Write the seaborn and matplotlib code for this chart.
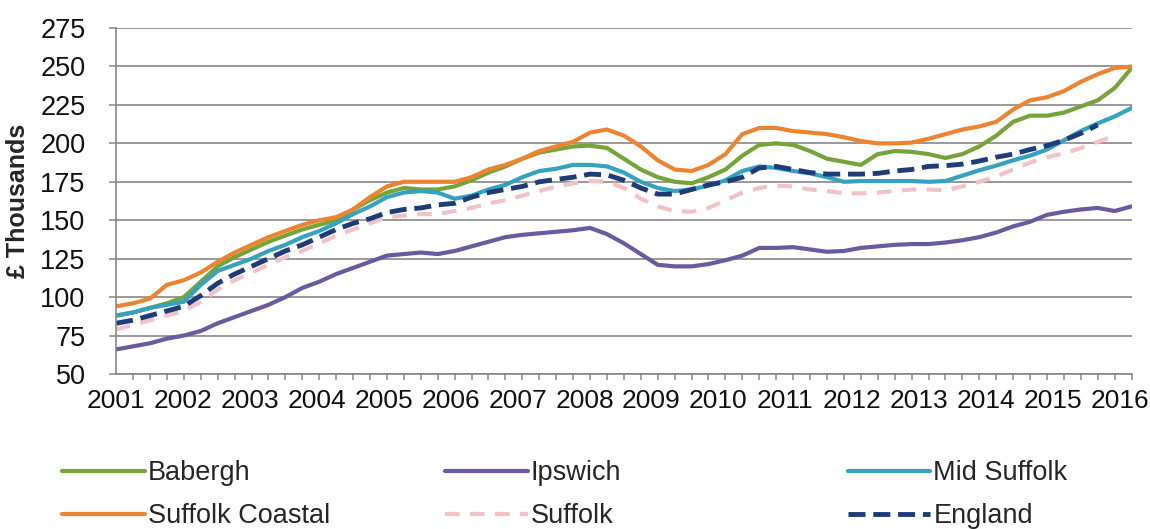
import numpy as np
import pandas as pd
import matplotlib
matplotlib.use("Agg")
import matplotlib.pyplot as plt
import seaborn as sns

# quarterly average house prices, 2001 Q1 to 2016 Q1 (GBP thousands)
years = [str(y) for y in range(2001, 2017)]
quarters = list(range(61))

babergh = [88, 90, 93, 96, 100, 110, 120, 126, 131, 136, 140, 144, 147, 150, 157, 163,
           168, 171, 170, 170, 172, 176, 181, 185, 190, 194, 196, 198, 198.5, 197, 190, 183,
           178, 175, 174, 178, 183, 192, 199, 200, 199, 195, 190, 188, 186, 193, 195, 194.5,
           193, 190.5, 193, 198, 205, 214, 218, 218, 220, 224, 228, 236, 249]
ipswich = [66, 68, 70, 73, 75, 78, 83, 87, 91, 95, 100, 106, 110, 115, 119, 123,
           127, 128, 129, 128, 130, 133, 136, 139, 140.5, 141.5, 142.5, 143.5, 145, 141, 135, 128,
           121, 120, 120, 121.5, 124, 127, 132, 132, 132.5, 131, 129.5, 130, 132, 133, 134, 134.5,
           134.5, 135.5, 137, 139, 142, 146, 149, 153.5, 155.5, 157, 158, 156, 159]
mid_suffolk = [88, 90, 93, 95, 97, 108, 117, 121, 125, 130, 134, 139, 143, 148, 154, 159,
               165, 168, 169, 168, 164, 166, 170, 173, 178, 182, 183.5, 186, 186, 185, 181, 175,
               171, 169, 170, 172.5, 176, 182, 185, 184, 182, 180.5, 178, 175, 175.5, 175.5, 175.5, 175.5,
               175, 175.5, 179, 182.5, 185.5, 189, 192, 196, 202, 208, 213, 217.5, 223]
suffolk_coastal = [94, 96, 99, 108, 111, 116, 123, 129, 134, 139, 143, 147, 150, 152, 157, 165,
                   172, 175, 175, 175, 175, 178, 183, 186, 190, 195, 198, 201, 207, 209, 205, 198,
                   189, 183, 182, 186, 193, 206, 210, 210, 208, 207, 206, 204, 201.5, 200, 200, 200.5,
                   203, 206, 209, 211, 214, 222, 228, 230, 234, 240, 245, 249, 250]
suffolk = [79, 82, 85, 88, 91, 97, 105, 111, 116, 121, 126, 130, 135, 140, 144, 148,
           152, 153, 154, 154, 156, 158, 161, 163, 166, 169, 172, 174, 175.5, 175, 171, 164,
           159, 156, 155.5, 158, 163, 168, 171, 172.5, 172, 170, 169, 167.5, 167.5, 168, 169, 170,
           170, 169.5, 172, 175, 178.5, 183, 187.5, 191, 193.5, 197, 201, 205, np.nan]
england = [83, 85, 88, 91, 94, 101, 109, 115, 120, 125, 130, 134, 139, 144, 148, 151,
           155, 157, 158, 160, 161, 165, 168, 170, 172, 175, 176.5, 178, 180, 179.5, 176, 171,
           167, 167, 170, 173, 175, 178, 184, 185, 183, 181, 180, 180, 180, 180.5, 182, 183,
           185, 185.5, 186.5, 188.5, 191, 193, 196, 198.5, 202, 206.5, 212, np.nan, np.nan]

series = [
    ("Babergh", babergh, "#76A33A", "-", 3.0),
    ("Ipswich", ipswich, "#6B5A9E", "-", 3.0),
    ("Mid Suffolk", mid_suffolk, "#35A2C0", "-", 3.0),
    ("Suffolk Coastal", suffolk_coastal, "#EC8431", "-", 3.0),
    ("Suffolk", suffolk, "#F1C3C8", (0, (3.5, 2.5)), 3.0),
    ("England", england, "#1F3C78", (0, (3.5, 1.6)), 3.5),
]

sns.set_theme(style="white")
plt.rcParams["font.family"] = ["Liberation Sans", "DejaVu Sans"]

fig = plt.figure(figsize=(11.5, 5.29), dpi=100)
ax = fig.add_axes([0.101, 0.293, 0.883, 0.654])

for name, vals, color, ls, lw in series:
    df = pd.DataFrame({"quarter": quarters, "price": vals})
    sns.lineplot(data=df, x="quarter", y="price", ax=ax, color=color,
                 linestyle=ls, linewidth=lw, label=name, legend=False)

grey = "#878787"
ax.set_xlim(0, 60)
ax.set_ylim(50, 275)
ax.set_yticks(range(50, 276, 25))
# year labels are squeezed slightly so that 2016 stays inside the picture
label_pos = [k * 3.953 for k in range(len(years))]
ax.set_xticks(label_pos)
ax.set_xticklabels(years)
ax.set_xticks(range(0, 61), minor=True)
ax.yaxis.grid(True, color=grey, linewidth=1.2)
ax.set_axisbelow(True)
for s in ["top", "right"]:
    ax.spines[s].set_visible(False)
for s in ["left", "bottom"]:
    ax.spines[s].set_color(grey)
    ax.spines[s].set_linewidth(1.2)

ax.tick_params(axis="x", which="minor", direction="out", length=4, width=1.1,
               color=grey, bottom=True)
ax.tick_params(axis="x", which="major", length=0, labelsize=19, pad=11,
               labelcolor="#111111")
ax.tick_params(axis="y", direction="out", length=5, width=1.1, color=grey, left=True,
               labelsize=19.5, pad=17, labelcolor="#111111")

ax.set_xlabel("")
ax.set_ylabel("£ Thousands", fontsize=18, fontweight="bold")
ax.yaxis.set_label_coords(-0.085, 0.5)

lines = {l.get_label(): l for l in ax.get_lines()}
cols = [("Babergh", "Suffolk Coastal"), ("Ipswich", "Suffolk"), ("Mid Suffolk", "England")]
col_x = [0.054, 0.387, 0.737]
for names, x0 in zip(cols, col_x):
    fig.legend([lines[n] for n in names], list(names), loc="upper left",
               bbox_to_anchor=(x0, 0.130), frameon=False, fontsize=19.5,
               handlelength=3.05, handletextpad=0.12, labelspacing=0.62,
               borderaxespad=0, borderpad=0)

fig.savefig("out.png", dpi=100, facecolor="white")
